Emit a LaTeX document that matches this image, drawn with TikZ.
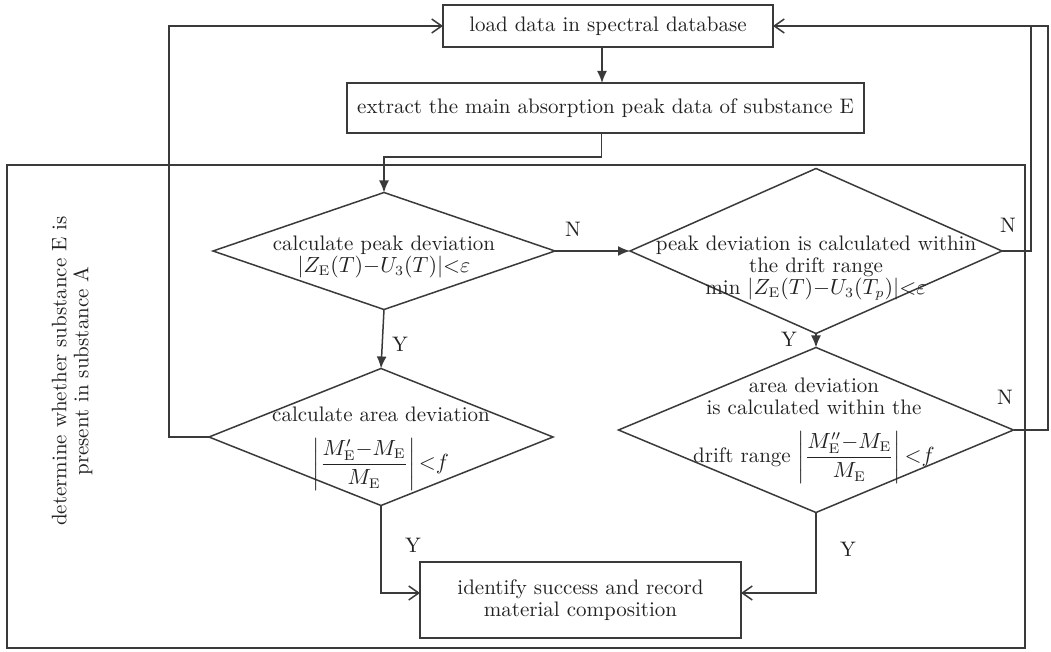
\documentclass[tikz,border=0pt]{standalone}
\usepackage{amsmath}
\usetikzlibrary{arrows.meta,shapes.geometric}
\definecolor{ln}{HTML}{3A3A3A}
\definecolor{tx}{HTML}{222222}
\begin{document}
\begin{tikzpicture}[x=0.5pt,y=-0.5pt,
  line width=0.75pt, draw=ln, text=tx,
  every node/.style={font=\fontsize{10.5}{11}\selectfont, inner sep=0pt, outer sep=0pt},
  boxnode/.style={draw=ln, rectangle, line width=0.75pt},
  dia/.style={draw=ln, diamond, line width=0.75pt},
  lbl/.style={align=center},
  fa/.style={draw=ln, -{Latex[length=6pt,width=5pt]}},
  oa/.style={draw=ln, -{Straight Barb[length=5pt,width=7pt]}},
  yn/.style={font=\fontsize{10.5}{11}\selectfont}
]
\useasboundingbox (0,0) rectangle (1051,652);
% outer frame
\node[boxnode, minimum width=509pt, minimum height=241.5pt] (frame) at (516,406.5) {};
\node[lbl, rotate=90] (side) at (72,371) {determine whether substance E is\\present in substance A};
% boxes
\node[boxnode, minimum width=165pt, minimum height=21pt] (load) at (608,26) {load data in spectral database};
\node[boxnode, minimum width=258.5pt, minimum height=25pt] (extract) at (605.5,108) {extract the main absorption peak data of substance E};
\node[boxnode, minimum width=160.5pt, minimum height=38pt, align=center] (final) at (580.5,600) {identify success and record\\material composition};
% diamonds
\node[dia, minimum width=171pt, minimum height=58.5pt] (d1) at (384,251) {};
\node[lbl] (d1t) at (384,257) {calculate peak deviation\\$|Z_{\mathrm{E}}(T){-}U_3(T)|{<}\varepsilon$};
\node[dia, minimum width=186pt, minimum height=82.5pt] (d2) at (816,251) {};
\node[lbl] (d2t) at (816,268) {peak deviation is calculated within\\the drift range\\min $|Z_{\mathrm{E}}(T){-}U_3(T_p)|{<}\varepsilon$};
\node[dia, minimum width=172pt, minimum height=68.5pt] (d3) at (381,437) {};
\node[lbl] (d3t) at (381,449) {calculate area deviation\\[7pt]$\left|\dfrac{M'_{\mathrm{E}}{-}M_{\mathrm{E}}}{M_{\mathrm{E}}}\right|{<}f$};
\node[dia, minimum width=197.5pt, minimum height=82.5pt] (d4) at (816,430) {};
\node[lbl] (d4t) at (814,431) {area deviation\\is calculated within the\\[7pt]drift range $\left|\dfrac{M''_{\mathrm{E}}{-}M_{\mathrm{E}}}{M_{\mathrm{E}}}\right|{<}f$};
% coordinates
\coordinate (c1) at (1031,26);
\coordinate (c2) at (1048,26);
\coordinate (c3) at (169,26);
% connectors
\draw[fa] ([xshift=-3pt]load.south) -- ([xshift=-3pt]load.south |- extract.north);
\draw[fa] ([xshift=-2pt]extract.south) -- ++(0,24) -| (d1.north);
\draw[fa] (d1.east) -- (d2.west);
\draw (d2.east) -| (c1);
\draw[oa] (d4.east) -| (c2) -- (load.east);
\draw[oa] (d3.west) -| (c3) -- (load.west);
\draw[fa] (d1.south) -- (d3.north);
\draw[fa] (d2.south) -- (d4.north);
\draw[oa] (d3.south) |- ([yshift=3.5pt]final.west);
\draw[oa] (d4.south) |- ([yshift=3.5pt]final.east);
% labels
\node[yn] (n1) at (573,229) {N};
\node[yn] (n2) at (1008,225) {N};
\node[yn] (n3) at (1005,397) {N};
\node[yn] (y1) at (400,344) {Y};
\node[yn] (y2) at (789,339) {Y};
\node[yn] (y3) at (413,545) {Y};
\node[yn] (y4) at (848,549) {Y};
\end{tikzpicture}
\end{document}
